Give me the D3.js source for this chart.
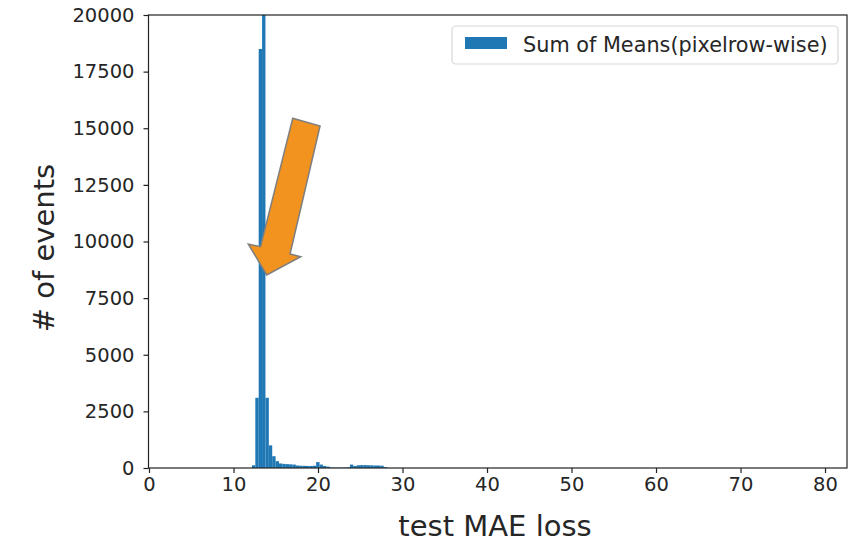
<!DOCTYPE html>
<html>
<head>
<meta charset="utf-8">
<script src="https://cdn.jsdelivr.net/npm/d3@7"></script>
<style>
  html, body { margin: 0; padding: 0; background: #fff; }
  svg { display: block; font-family: "DejaVu Sans", sans-serif; }
</style>
</head>
<body>
<svg id="chart" width="859" height="543"></svg>
<script>
// Histogram of test MAE loss: lower bin edges and event counts per bin
const binWidth = 0.4;
const binStarts = [
  12.18, 12.58, 12.98, 13.38, 13.78, 14.18, 14.58, 14.98, 15.38, 15.78,
  16.18, 16.58, 16.98, 17.38, 17.78, 18.18, 18.58, 18.98, 19.38, 19.78,
  20.18, 20.58, 20.98, 21.38, 21.78, 22.18, 22.58, 22.98, 23.38, 23.78,
  24.18, 24.58, 24.98, 25.38, 25.78, 26.18, 26.58, 26.98, 27.38, 27.78
];
const counts = [
  120, 3100, 18500, 26000, 3100, 1000, 520, 300, 200, 180,
  170, 160, 150, 110, 100, 95, 90, 90, 100, 260,
  150, 90, 60, 20, 15, 15, 15, 20, 30, 150,
  90, 120, 130, 130, 120, 120, 110, 110, 100, 40
];
const seriesName = "Sum of Means(pixelrow-wise)";
const xTicks = [0, 10, 20, 30, 40, 50, 60, 70, 80];
const yTicks = [0, 2500, 5000, 7500, 10000, 12500, 15000, 17500, 20000];
const xLabel = "test MAE loss";
const yLabel = "# of events";

// Annotation arrow outline, in data units (loss, events)
const arrowPoints = [
  [17.01, 15440], [20.24, 15099], [16.69, 9448], [17.95, 9329],
  [13.93, 8521], [11.75, 9890], [13.20, 9771]
];

const svg = d3.select("#chart");
const plot = { left: 148.5, right: 847, top: 15, bottom: 468 };

const x = d3.scaleLinear().domain([-0.06, 82.6]).range([plot.left, plot.right]);
const y = d3.scaleLinear().domain([0, 20000]).range([plot.bottom, plot.top]);

svg.append("defs").append("clipPath").attr("id", "plotClip")
  .append("rect")
  .attr("x", plot.left).attr("y", plot.top)
  .attr("width", plot.right - plot.left).attr("height", plot.bottom - plot.top);

const bins = binStarts.map((s, i) => ({ x0: s, x1: s + binWidth, n: counts[i] }));

svg.append("g").attr("clip-path", "url(#plotClip)")
  .selectAll("rect").data(bins).join("rect")
  .attr("x", d => x(d.x0))
  .attr("width", d => x(d.x1) - x(d.x0))
  .attr("y", d => y(d.n))
  .attr("height", d => y(0) - y(d.n))
  .attr("fill", "#1f77b4");

// Axes
const tickFont = 19.5;
const xAxis = svg.append("g")
  .attr("transform", `translate(0,${plot.bottom})`)
  .call(d3.axisBottom(x).tickValues(xTicks).tickSize(5).tickPadding(4).tickSizeOuter(0));
const yAxis = svg.append("g")
  .attr("transform", `translate(${plot.left},0)`)
  .call(d3.axisLeft(y).tickValues(yTicks).tickSize(5).tickPadding(9).tickSizeOuter(0)
    .tickFormat(d3.format("d")));

[xAxis, yAxis].forEach(g => {
  g.select(".domain").remove();
  g.selectAll(".tick line").attr("stroke", "#222").attr("stroke-width", 1.2);
  g.selectAll(".tick text")
    .attr("fill", "#262626")
    .style("font-size", tickFont + "px")
    .style("font-family", "DejaVu Sans, sans-serif");
});

// Frame around the plot area
svg.append("rect")
  .attr("x", plot.left).attr("y", plot.top)
  .attr("width", plot.right - plot.left).attr("height", plot.bottom - plot.top)
  .attr("fill", "none").attr("stroke", "#222").attr("stroke-width", 1.2);

// Axis titles
svg.append("text")
  .attr("x", 495).attr("y", 536)
  .attr("text-anchor", "middle")
  .attr("fill", "#262626")
  .style("font-size", "29px")
  .text(xLabel);

svg.append("text")
  .attr("transform", `translate(54,${248}) rotate(-90)`)
  .attr("text-anchor", "middle")
  .attr("fill", "#262626")
  .style("font-size", "29px")
  .text(yLabel);

// Legend
const legend = svg.append("g");
legend.append("rect")
  .attr("x", 452).attr("y", 26).attr("width", 386).attr("height", 38)
  .attr("rx", 4).attr("ry", 4)
  .attr("fill", "#fff").attr("fill-opacity", 0.8)
  .attr("stroke", "#d8d8d8").attr("stroke-width", 1.2);
legend.append("rect")
  .attr("x", 465).attr("y", 37).attr("width", 42).attr("height", 12)
  .attr("fill", "#1f77b4");
legend.append("text")
  .attr("x", 523).attr("y", 52)
  .attr("fill", "#262626")
  .style("font-size", "20.8px")
  .text(seriesName);

// Orange arrow pointing at the peak
svg.append("path")
  .attr("d", d3.line().x(p => x(p[0])).y(p => y(p[1]))(arrowPoints) + "Z")
  .attr("fill", "#f2921f")
  .attr("stroke", "#7f7f7f")
  .attr("stroke-width", 1.5)
  .attr("stroke-linejoin", "miter");
</script>
</body>
</html>
